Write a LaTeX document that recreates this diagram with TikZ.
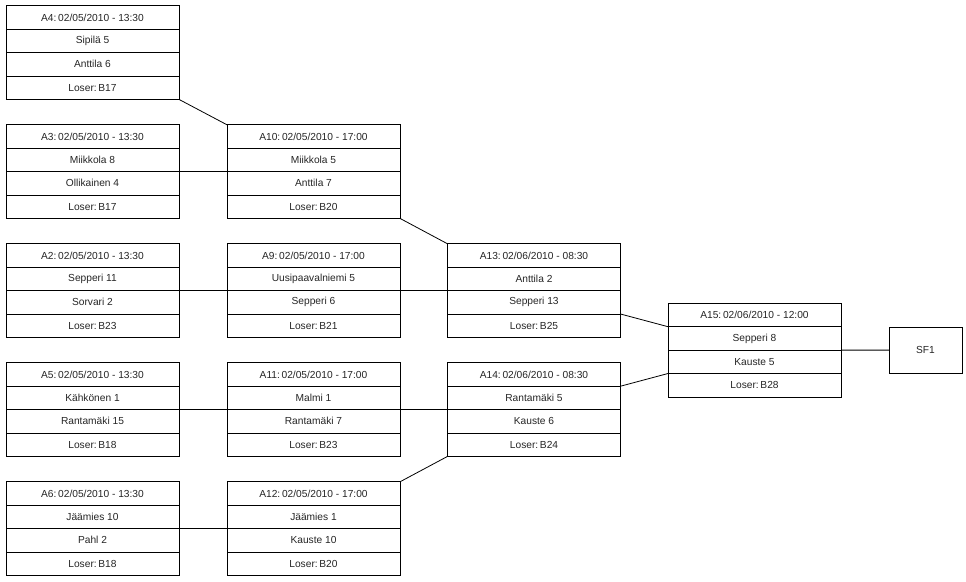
\documentclass[tikz,border=0pt]{standalone}
\usepackage{fontspec}
\setmainfont{Liberation Sans}
\newcommand{\gamebox}[7]{%
  \node[rowbox, anchor=north west] (#1-1) at (#2pt,-#3pt) {#4};
  \node[rowbox, anchor=north] (#1-2) at (#1-1.south) {#5};
  \node[rowbox, anchor=north] (#1-3) at (#1-2.south) {#6};
  \node[rowbox, anchor=north] (#1-4) at (#1-3.south) {#7};
}
\begin{document}
\begin{tikzpicture}[x=1pt,y=1pt,
  rowbox/.style={draw, line width=0.8pt, minimum width=173pt, minimum height=23.4pt, inner sep=0pt, outer sep=0pt, font=\fontsize{10.2}{12}\selectfont, text=black!85},
  conn/.style={line width=0.8pt},
  sfbox/.style={draw, line width=0.8pt, minimum width=73pt, minimum height=46pt, inner sep=0pt, outer sep=0pt, font=\fontsize{10.2}{12}\selectfont, text=black!85}]
\useasboundingbox (0,0) rectangle (966,-581);
\fill[white] (0,0) rectangle (966,-581);
\gamebox{a4}{6}{5.8}{A4:\,02/05/2010 - 13:30}{Sipilä 5}{Anttila 6}{Loser:\,B17}
\gamebox{a3}{6}{124.8}{A3:\,02/05/2010 - 13:30}{Miikkola 8}{Ollikainen 4}{Loser:\,B17}
\gamebox{a2}{6}{243.8}{A2:\,02/05/2010 - 13:30}{Sepperi 11}{Sorvari 2}{Loser:\,B23}
\gamebox{a5}{6}{362.8}{A5:\,02/05/2010 - 13:30}{Kähkönen 1}{Rantamäki 15}{Loser:\,B18}
\gamebox{a6}{6}{481.8}{A6:\,02/05/2010 - 13:30}{Jäämies 10}{Pahl 2}{Loser:\,B18}
\gamebox{a10}{227}{124.8}{A10:\,02/05/2010 - 17:00}{Miikkola 5}{Anttila 7}{Loser:\,B20}
\gamebox{a9}{227}{243.8}{A9:\,02/05/2010 - 17:00}{Uusipaavalniemi 5}{Sepperi 6}{Loser:\,B21}
\gamebox{a11}{227}{362.8}{A11:\,02/05/2010 - 17:00}{Malmi 1}{Rantamäki 7}{Loser:\,B23}
\gamebox{a12}{227}{481.8}{A12:\,02/05/2010 - 17:00}{Jäämies 1}{Kauste 10}{Loser:\,B20}
\gamebox{a13}{447.5}{243.8}{A13:\,02/06/2010 - 08:30}{Anttila 2}{Sepperi 13}{Loser:\,B25}
\gamebox{a14}{447.5}{362.8}{A14:\,02/06/2010 - 08:30}{Rantamäki 5}{Kauste 6}{Loser:\,B24}
\gamebox{a15}{668}{303.3}{A15:\,02/06/2010 - 12:00}{Sepperi 8}{Kauste 5}{Loser:\,B28}
\node[sfbox] (sf1) at (925.5,-350.1) {SF1};
\draw[conn] (a4-4.south east) -- (a10-1.north west);
\draw[conn] (a3-2.south east) -- (a10-2.south west);
\draw[conn] (a10-4.south east) -- (a13-1.north west);
\draw[conn] (a2-2.south east) -- (a9-2.south west);
\draw[conn] (a9-2.south east) -- (a13-2.south west);
\draw[conn] (a13-3.south east) -- (a15-1.south west);
\draw[conn] (a14-1.south east) -- (a15-3.south west);
\draw[conn] (a15-2.south east) -- (sf1.west);
\draw[conn] (a5-2.south east) -- (a11-2.south west);
\draw[conn] (a11-2.south east) -- (a14-2.south west);
\draw[conn] (a12-1.north east) -- (a14-4.south west);
\draw[conn] (a6-2.south east) -- (a12-2.south west);
\end{tikzpicture}
\end{document}
